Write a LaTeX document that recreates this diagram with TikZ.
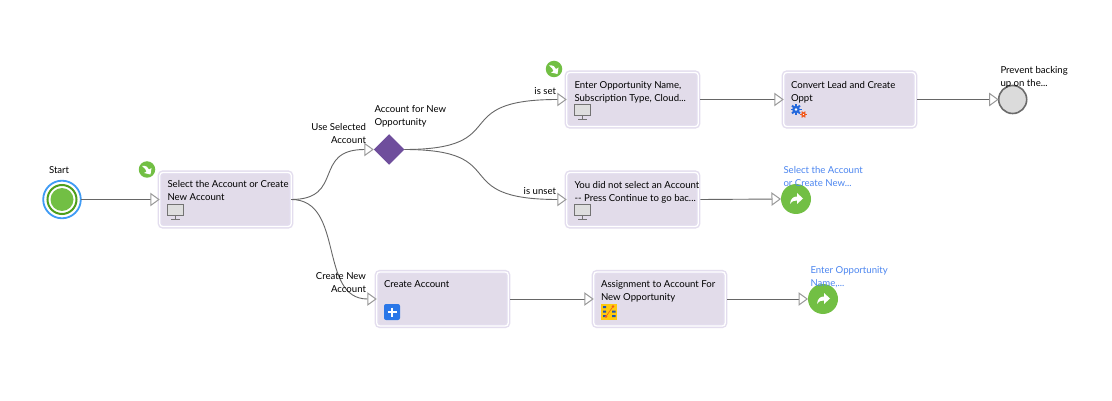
\documentclass[tikz,border=0pt]{standalone}
\usepackage{fontspec}
\setmainfont{Lato}
\usetikzlibrary{arrows.meta,shapes.geometric}
\definecolor{boxfill}{HTML}{E2DCEA}
\definecolor{boxedge}{HTML}{E3DDEE}
\definecolor{flowgray}{HTML}{666666}
\definecolor{tipgray}{HTML}{999999}
\definecolor{okgreen}{HTML}{72BF44}
\definecolor{ringgreen}{HTML}{4E9F1D}
\definecolor{linkblue}{HTML}{4C86F0}
\definecolor{startblue}{HTML}{3F9BF5}
\definecolor{gatepurple}{HTML}{6F4E9C}
\definecolor{plusblue}{HTML}{2A77E8}
\definecolor{gearblue}{HTML}{2468DC}
\definecolor{gearorange}{HTML}{F0591E}
\definecolor{assignyellow}{HTML}{FFC90E}
\tikzset{
  x=1pt,y=-1pt,
  every node/.style={inner sep=0pt,outer sep=0pt,font=\fontsize{9.6}{13}\selectfont,text=black},
  stepbox/.style={rectangle,rounded corners=3pt,draw=boxedge,line width=1.4pt,double=white,double distance=1.3pt,fill=boxfill,minimum width=131.5pt,minimum height=54pt},
  boxtext/.style={anchor=north west,align=left},
  lefttext/.style={anchor=north west,align=left},
  righttext/.style={anchor=north east,align=right},
  linktext/.style={anchor=north west,align=left,text=linkblue},
  flow/.style={draw=flowgray,line width=0.9pt,-{Triangle[open,length=9.5pt,width=13.5pt,fill=white,color=tipgray,line width=1pt]}},
  linkcircle/.style={circle,fill=okgreen,minimum size=30pt},
  badge/.style={circle,fill=okgreen,minimum size=16.5pt},
  monitoricon/.pic={
    \draw[fill=black!13,draw=black!55,line width=0.7pt] (0,0) rectangle (15.5,10.5);
    \draw[draw=black!55,line width=0.9pt] (7.75,10.5) -- (7.75,14.5) (3.5,15) -- (12,15);
  },
  curvedarrow/.pic={
    \fill[white] (-6,5) .. controls (-5.5,-1) and (-2,-2.5) .. (1,-2.5) -- (1,-6) -- (7,-0.5) -- (1,5) -- (1,1.5) .. controls (-2,1.5) and (-4,2) .. (-6,5) -- cycle;
  },
  downarrow/.pic={
    \fill[white] (-5,-3.5) .. controls (-1,-4) and (1.5,-2.5) .. (2,0) -- (4.5,-1.5) -- (3.5,5) -- (-3,3.5) -- (-0.5,2) .. controls (-1,0) and (-2.5,-1.5) .. (-5,-3.5) -- cycle;
  },
}
\begin{document}
\begin{tikzpicture}
\useasboundingbox[fill=white] (0,0) rectangle (1112,401);

% Start event
\node[circle,draw=startblue,line width=1.8pt,fill=white,minimum size=37.6pt] (start) at (62,199.5) {};
\node[circle,draw=ringgreen,line width=2pt,fill=white,minimum size=29pt] at (start) {};
\node[circle,fill=okgreen,minimum size=23pt] at (start) {};
\node[lefttext] at (49,167) {Start};

% Activity boxes
\node[stepbox] (select) at (225.5,199.5) {};
\node[stepbox] (enter) at (632.5,99.5) {};
\node[stepbox] (unset) at (632.5,199.5) {};
\node[stepbox] (convert) at (849.5,99.5) {};
\node[stepbox] (create) at (442.5,299) {};
\node[stepbox] (assign) at (659.5,299) {};

\node[boxtext] at (167.5,180.5) {Select the Account or Create\\New Account};
\node[boxtext] at (574.5,81) {Enter Opportunity Name,\\Subscription Type, Cloud...};
\node[boxtext] at (574.5,181) {You did not select an Account\\-{}- Press Continue to go bac...};
\node[boxtext] at (791,81) {Convert Lead and Create\\Oppt};
\node[boxtext] at (384,280.5) {Create Account};
\node[boxtext] at (601,280.5) {Assignment to Account For\\New Opportunity};

% Gateway, end event and jump targets
\node[diamond,fill=gatepurple,minimum width=30.5pt,minimum height=30.5pt,aspect=1] (gate) at (389,149.5) {};
\node[circle,fill=black!14,draw=black!58,line width=1.6pt,minimum size=28pt] (stop) at (1012.7,99.5) {};
\node[linkcircle] (jumpa) at (796,199) {};
\node[linkcircle] (jumpb) at (823,299) {};
\pic at (jumpa) {curvedarrow};
\pic at (jumpb) {curvedarrow};

% Start markers on the boxes
\node[badge] (marka) at (147,169.5) {};
\node[badge] (markb) at (554,69) {};
\pic at (marka) {downarrow};
\pic at (markb) {downarrow};

% Sequence flows
\draw[flow] (start.east) -- (select.west);
\draw[flow] (select.east) .. controls (345,199.5) and (312,149.5) .. (gate.west);
\draw[flow] (select.east) .. controls (345,199.5) and (318,299) .. (create.west);
\draw[flow] (gate.east) .. controls (515,149.5) and (445,99.5) .. (enter.west);
\draw[flow] (gate.east) .. controls (515,149.5) and (445,199.5) .. (unset.west);
\draw[flow] ([xshift=2pt]enter.east) -- (convert.west);
\draw[flow] ([xshift=2pt]unset.east) -- (jumpa.west);
\draw[flow] ([xshift=2pt]create.east) -- (assign.west);
\draw[flow] ([xshift=2pt]assign.east) -- (jumpb.west);
\draw[flow] ([xshift=2pt]convert.east) -- (stop.west);

% Flow and element captions
\node[righttext] at (366,123.5) {Use Selected\\Account};
\node[righttext] at (366,273) {Create New\\Account};
\node[righttext] at (556,87.5) {is set};
\node[righttext] at (556,187.5) {is unset};
\node[lefttext] at (374.5,105.5) {Account for New\\Opportunity};
\node[lefttext] at (1000.5,66.5) {Prevent backing\\up on the...};
\node[linktext] at (783.5,166.5) {Select the Account\\or Create New...};
\node[linktext] at (810.5,266.5) {Enter Opportunity\\Name,...};

% Type icons inside the boxes
\pic at (167.5,204.5) {monitoricon};
\pic at (574.5,104.5) {monitoricon};
\pic at (574.5,204.5) {monitoricon};

% Service task gears
\foreach \a in {0,45,...,315}{
  \draw[gearblue,line width=1.8pt] (796,109.5) -- ++(\a:5.5);
}
\fill[gearblue] (796,109.5) circle (3.8);
\fill[white] (796,109.5) circle (1.3);
\foreach \a in {0,60,...,300}{
  \draw[gearorange,line width=1.2pt] (803.5,114.5) -- ++(\a:3.4);
}
\fill[gearorange] (803.5,114.5) circle (2.3);
\fill[white] (803.5,114.5) circle (0.7);

% Create record button
\fill[plusblue,rounded corners=2pt] (384,304) rectangle (400,320);
\draw[white,line width=1.4pt] (392,307.5) -- (392,316.5) (387.5,312) -- (396.5,312);

% Assignment icon
\fill[assignyellow] (601,304) rectangle (617,320);
\fill[gearblue!80!black] (603,306) rectangle (606,308) (603,310.5) rectangle (606,312.5) (603,315) rectangle (606,317)
  (612,310.5) rectangle (615.5,312.5) (612,315) rectangle (615.5,317);
\draw[gearorange,line width=0.6pt] (606,316.5) -- (613,306.5);
\fill[gearorange] (606,316.5) circle (1.3) (613,306.5) circle (1.3);
\end{tikzpicture}
\end{document}
